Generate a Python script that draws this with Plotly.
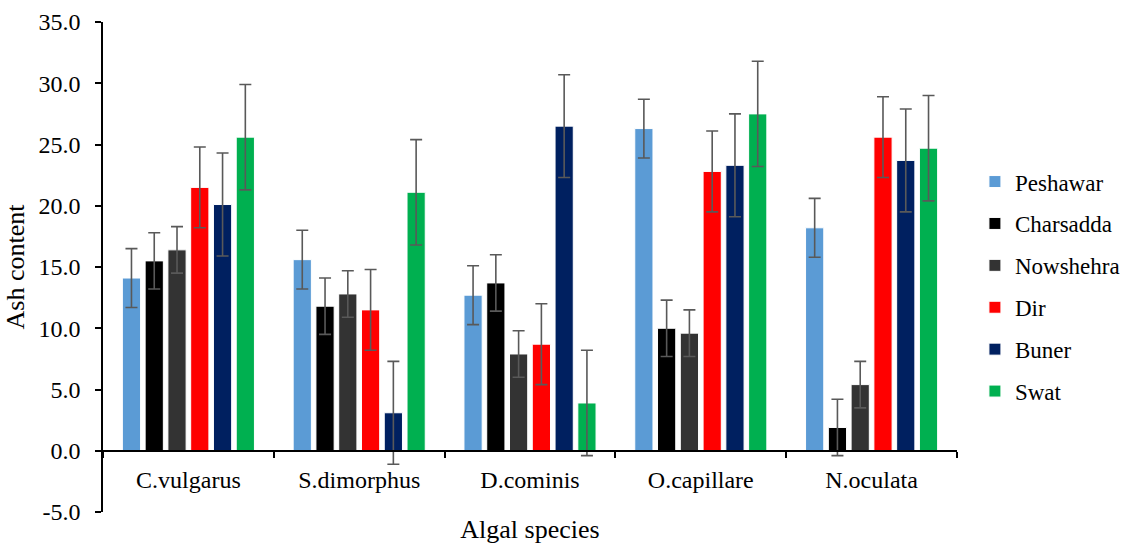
import plotly.graph_objects as go

# Species along the category axis
species = ["C.vulgarus", "S.dimorphus", "D.cominis", "O.capillare", "N.oculata"]

# Mean ash content per sampling site
peshawar = [14.1, 15.6, 12.7, 26.3, 18.2]
charsadda = [15.5, 11.8, 13.7, 10.0, 1.9]
nowshehra = [16.4, 12.8, 7.9, 9.6, 5.4]
dir_site = [21.5, 11.5, 8.7, 22.8, 25.6]
buner = [20.1, 3.1, 26.5, 23.3, 23.7]
swat = [25.6, 21.1, 3.9, 27.5, 24.7]

# Error bar half-widths per site
err_peshawar = [2.4, 2.4, 2.4, 2.4, 2.4]
err_charsadda = [2.3, 2.3, 2.3, 2.3, 2.3]
err_nowshehra = [1.9, 1.9, 1.9, 1.9, 1.9]
err_dir = [3.3, 3.3, 3.3, 3.3, 3.3]
err_buner = [4.2, 4.2, 4.2, 4.2, 4.2]
err_swat = [4.3, 4.3, 4.3, 4.3, 4.3]

sites = ["Peshawar", "Charsadda", "Nowshehra", "Dir", "Buner", "Swat"]
values = [peshawar, charsadda, nowshehra, dir_site, buner, swat]
errors = [err_peshawar, err_charsadda, err_nowshehra, err_dir, err_buner, err_swat]
colors = ["#5B9BD5", "#000000", "#333333", "#FF0000", "#002060", "#00B050"]

# Y tick values and labels
y_ticks = [-5, 0, 5, 10, 15, 20, 25, 30, 35]
y_tick_labels = ["-5.0", "0.0", "5.0", "10.0", "15.0", "20.0", "25.0", "30.0", "35.0"]

FONT = "Liberation Serif"

fig = go.Figure()
for name, vals, errs, col in zip(sites, values, errors, colors):
    fig.add_trace(go.Bar(
        name=name,
        x=species,
        y=vals,
        legendgroup=name,
        marker=dict(color=col, line=dict(color="white", width=1)),
        error_y=dict(type="data", array=errs, visible=True,
                     color="#595959", thickness=1.6, width=6),
    ))

y_min, y_max = -5, 35
zero_frac = (0 - y_min) / (y_max - y_min)

fig.update_layout(
    template="none",
    width=1123,
    height=545,
    paper_bgcolor="white",
    plot_bgcolor="white",
    barmode="group",
    bargap=0.2,
    bargroupgap=0.2,
    margin=dict(l=103, r=166, t=22, b=33, autoexpand=False),
    font=dict(family=FONT, size=24, color="#000000"),
    showlegend=True,
    legend=dict(
        x=1.021, y=0.46, xanchor="left", yanchor="middle",
        font=dict(family=FONT, size=23, color="#000000"),
        tracegroupgap=9,
        itemwidth=30,
        bgcolor="rgba(0,0,0,0)",
        borderwidth=0,
    ),
    xaxis=dict(
        anchor="free",
        position=zero_frac,
        showline=True,
        linecolor="#000000",
        linewidth=1.5,
        ticks="outside",
        tickson="boundaries",
        ticklen=6,
        tickcolor="#000000",
        tickwidth=1.5,
        showgrid=False,
        zeroline=False,
        ticklabelstandoff=8,
        tickfont=dict(family=FONT, size=24),
        title=dict(text="Algal species", font=dict(family=FONT, size=26), standoff=27),
    ),
    yaxis=dict(
        range=[y_min, y_max],
        tickvals=y_ticks,
        ticktext=y_tick_labels,
        showline=True,
        linecolor="#000000",
        linewidth=1.5,
        ticks="outside",
        ticklen=6,
        tickcolor="#000000",
        tickwidth=1.5,
        showgrid=False,
        zeroline=False,
        ticklabelstandoff=10,
        tickfont=dict(family=FONT, size=24),
        title=dict(text="Ash content", font=dict(family=FONT, size=26), standoff=6),
    ),
)

fig.write_html("out.html")
